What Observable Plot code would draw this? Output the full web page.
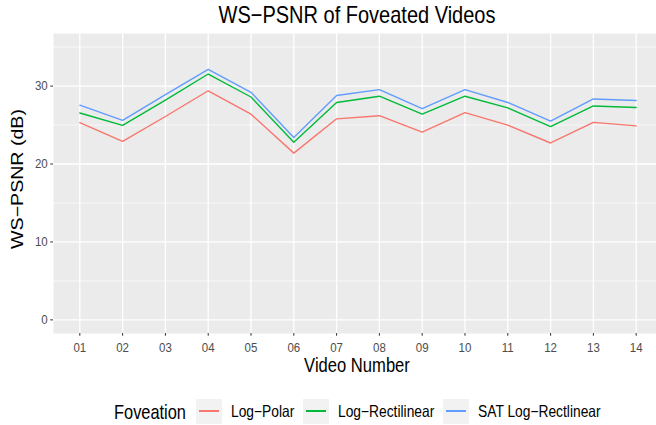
<!DOCTYPE html>
<html>
<head>
<meta charset="utf-8">
<script src="https://cdn.jsdelivr.net/npm/d3@7"></script>
<script src="https://cdn.jsdelivr.net/npm/@observablehq/plot@0.6"></script>
<style>
  html, body { margin: 0; padding: 0; background: white; }
  #wrap { position: relative; width: 656px; height: 425px; overflow: hidden; font-family: "Liberation Sans", Arial, Helvetica, sans-serif; }
  #wrap > svg.plot { position: absolute; left: 0; top: 0; max-width: none !important; }
  .t { position: absolute; white-space: nowrap; line-height: 1; }
  .key { position: absolute; width: 26px; height: 25px; background-color: #F2F2F2; }
  .keyline { position: absolute; left: 3px; width: 20px; top: 11px; height: 2px; }
</style>
</head>
<body>
<div id="wrap"></div>
<script>
const videos = ["01","02","03","04","05","06","07","08","09","10","11","12","13","14"];
const logPolar   = [25.3, 22.9, 26.1, 29.4, 26.4, 21.4, 25.8, 26.2, 24.1, 26.6, 25.0, 22.7, 25.35, 24.9];
const logRect    = [26.55, 24.95, 28.2, 31.55, 28.6, 22.8, 27.9, 28.7, 26.4, 28.7, 27.2, 24.8, 27.45, 27.25];
const satLogRect = [27.55, 25.6, 28.9, 32.15, 29.2, 23.4, 28.8, 29.55, 27.1, 29.55, 27.9, 25.5, 28.35, 28.15];
const seriesNames = ["Log−Polar", "Log−Rectilinear", "SAT Log−Rectlinear"];
const seriesColors = ["#F8766D", "#00BA38", "#619CFF"];
const yTicks = [0, 10, 20, 30];
const yMinor = [5, 15, 25, 35];
const titleText = "WS−PSNR of Foveated Videos";
const xTitle = "Video Number";
const yTitle = "WS−PSNR (dB)";
const legendTitle = "Foveation";

const stretch = 1.18;

const allSeries = [logPolar, logRect, satLogRect];
const data = seriesNames.flatMap((s, i) =>
  allSeries[i].map((v, j) => ({video: videos[j], value: v, series: s}))
);

const chart = Plot.plot({
  width: 662,
  height: 375,
  marginTop: 33,
  marginBottom: 42,
  marginLeft: 53,
  marginRight: 0,
  style: {fontFamily: "Liberation Sans, Arial, Helvetica, sans-serif", background: "transparent", maxWidth: "none"},
  x: {type: "point", domain: videos, padding: 0.615, round: false, label: null},
  y: {domain: [-1.75, 36.75], label: null},
  color: {domain: seriesNames, range: seriesColors},
  marks: [
    Plot.frame({fill: "#EBEBEB", stroke: null}),
    Plot.gridY(yMinor, {stroke: "white", strokeOpacity: 1, strokeWidth: 0.65}),
    Plot.gridY(yTicks, {stroke: "white", strokeOpacity: 1, strokeWidth: 1.3}),
    Plot.gridX(videos, {stroke: "white", strokeOpacity: 1, strokeWidth: 1.3}),
    Plot.axisY(yTicks, {tickSize: 2.74, tickPadding: 3, stroke: "#333333", fill: "#4D4D4D", fontSize: 11.5, label: null}),
    Plot.axisX(videos, {tickSize: 2.74, tickPadding: 6, stroke: "#333333", fill: "#4D4D4D", fontSize: 11.5, label: null}),
    Plot.line(data, {x: "video", y: "value", stroke: "series", strokeWidth: 1.4})
  ]
});

// the reference's lettering is taller than it is wide: stretch tick labels vertically
chart.querySelectorAll('g[aria-label$="tick label"] text').forEach(t => {
  t.setAttribute("transform", (t.getAttribute("transform") || "") + ` scale(1,${stretch})`);
});

const wrap = document.getElementById("wrap");
wrap.appendChild(chart);

function addText(txt, x, y, size, transform) {
  const d = document.createElement("div");
  d.className = "t";
  d.textContent = txt;
  d.style.fontSize = size + "px";
  d.style.left = x + "px";
  d.style.top = y + "px";
  d.style.color = "black";
  d.style.transform = transform;
  wrap.appendChild(d);
  return d;
}

addText(titleText, 357, 15, 20, `translate(-50%, -50%) scale(1, ${stretch})`);
addText(xTitle, 357, 366, 16.6, `translate(-50%, -50%) scale(1, ${stretch})`);
addText(yTitle, 18, 179, 16.6, `translate(-50%, -50%) rotate(-90deg) scale(${stretch}, 1)`);

// legend
addText(legendTitle, 114, 412, 16.4, `translate(0, -50%) scale(1, ${stretch})`);
const keyX = [196, 303, 443];
const labelX = [231, 338, 478];
seriesNames.forEach((s, i) => {
  const k = document.createElement("div");
  k.className = "key";
  k.style.left = keyX[i] + "px";
  k.style.top = "399px";
  const ln = document.createElement("div");
  ln.className = "keyline";
  ln.style.backgroundColor = seriesColors[i];
  k.appendChild(ln);
  wrap.appendChild(k);
  const d = addText(s, labelX[i], 412, 13.8, `translate(0, -50%) scale(1, ${stretch})`);
  d.style.transformOrigin = "0 50%";
});
</script>
</body>
</html>
